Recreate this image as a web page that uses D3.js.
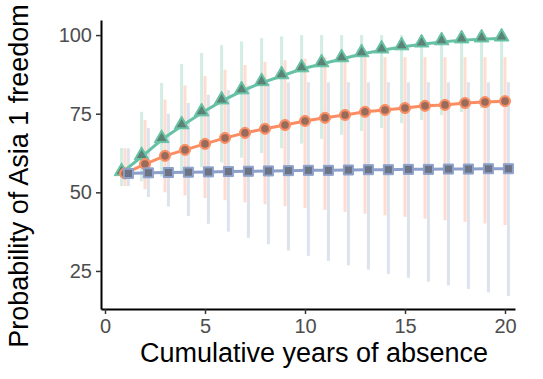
<!DOCTYPE html>
<html>
<head>
<meta charset="utf-8">
<script src="https://cdn.jsdelivr.net/npm/d3@7"></script>
<style>
  body { margin: 0; background: #fff; }
  svg { display: block; font-family: "Liberation Sans", Arial, sans-serif; }
</style>
</head>
<body>
<svg id="chart" width="543" height="379"></svg>
<script>
const years = d3.range(1, 21);

// point estimates per series
const greenMean  = [56.2, 61.3, 66.7, 71.1, 75.2, 79.0, 82.2, 84.8, 87.0, 89.2, 90.8, 92.4, 94.0, 95.2, 96.2, 97.1, 97.8, 98.4, 98.7, 99.0];
const orangeMean = [56.0, 59.0, 61.6, 63.5, 65.4, 67.3, 68.9, 70.2, 71.4, 72.7, 73.7, 74.6, 75.6, 76.2, 76.8, 77.5, 77.8, 78.4, 78.7, 79.0];
const blueMean   = [56.0, 56.2, 56.3, 56.4, 56.5, 56.6, 56.7, 56.8, 56.9, 57.0, 57.0, 57.1, 57.2, 57.2, 57.3, 57.3, 57.4, 57.4, 57.5, 57.5];

// interval bounds
const greenLo  = [52.0, 53.5, 55.0, 56.5, 58.0, 59.5, 61.0, 62.5, 64.0, 65.5, 67.0, 68.3, 69.5, 70.5, 72.0, 73.0, 74.5, 75.5, 76.8, 77.8];
const greenHi  = [64.1, 75.6, 84.8, 90.8, 94.3, 96.8, 98.0, 99.0, 99.6, 100, 100, 100, 100, 100, 100, 100, 100, 100, 100, 100];
const orangeLo = [52.0, 51.0, 50.0, 49.0, 48.2, 47.5, 46.8, 46.2, 45.6, 45.0, 44.4, 43.8, 43.2, 42.7, 42.2, 41.6, 41.1, 40.6, 40.1, 39.6];
const orangeHi = [64.0, 73.0, 79.5, 84.0, 87.0, 89.0, 90.5, 91.5, 92.0, 92.5, 93.0, 93.0, 93.0, 93.0, 93.0, 93.0, 93.0, 93.0, 93.0, 93.0];
const blueLo   = [52.0, 48.5, 45.5, 42.5, 40.0, 37.5, 35.5, 33.5, 31.5, 29.8, 28.2, 26.8, 25.4, 24.0, 22.8, 21.6, 20.4, 19.3, 18.2, 17.0];
const blueHi   = [64.0, 70.5, 75.0, 78.4, 81.0, 82.5, 84.0, 84.8, 85.0, 85.0, 85.0, 85.0, 85.0, 85.0, 85.0, 85.0, 85.0, 85.0, 85.0, 85.0];

const xTicks = [0, 5, 10, 15, 20];
const yTicks = [25, 50, 75, 100];

const series = [
  { mean: greenMean,  lo: greenLo,  hi: greenHi,  color: '#66c2a5', shape: 'triangle', dodge: -0.17 },
  { mean: orangeMean, lo: orangeLo, hi: orangeHi, color: '#fc8d62', shape: 'circle',   dodge: 0 },
  { mean: blueMean,   lo: blueLo,   hi: blueHi,   color: '#8da0cb', shape: 'square',   dodge: 0.17 }
];

const svg = d3.select('#chart');
const margin = { top: 20, right: 28, bottom: 70, left: 101 };
const width = 543, height = 379;

const x = d3.scaleLinear().domain([-0.2, 20.5]).range([margin.left, width - margin.right]);
const y = d3.scaleLinear().domain([12.9, 104.8]).range([height - margin.bottom, margin.top]);

// error bars first, then lines, then points
series.forEach(s => {
  svg.append('g')
    .selectAll('line')
    .data(years)
    .enter().append('line')
    .attr('x1', d => x(d + s.dodge))
    .attr('x2', d => x(d + s.dodge))
    .attr('y1', (d, i) => y(s.lo[i]))
    .attr('y2', (d, i) => y(s.hi[i]))
    .attr('stroke', s.color)
    .attr('stroke-opacity', 0.3)
    .attr('stroke-width', 3);
});

series.forEach(s => {
  const line = d3.line()
    .x(d => x(d + s.dodge))
    .y((d, i) => y(s.mean[i]));
  svg.append('path')
    .datum(years)
    .attr('fill', 'none')
    .attr('stroke', s.color)
    .attr('stroke-width', 3)
    .attr('d', line);
});

const symbols = {
  triangle: d3.symbol().type(d3.symbolTriangle).size(95),
  circle: d3.symbol().type(d3.symbolCircle).size(95),
  square: d3.symbol().type(d3.symbolSquare).size(100)
};
const inner = {
  triangle: d3.symbol().type(d3.symbolTriangle).size(40),
  circle: d3.symbol().type(d3.symbolCircle).size(45),
  square: d3.symbol().type(d3.symbolSquare).size(50)
};

series.forEach(s => {
  const pts = svg.append('g').selectAll('g')
    .data(years)
    .enter().append('g')
    .attr('transform', (d, i) => {
      const dy = s.shape === 'triangle' ? -1.5 : 0;
      return `translate(${x(d + s.dodge)},${y(s.mean[i]) + dy})`;
    });
  pts.append('path')
    .attr('d', symbols[s.shape]())
    .attr('fill', s.color)
    .attr('stroke', s.color)
    .attr('stroke-width', 1);
  pts.append('path')
    .attr('d', inner[s.shape]())
    .attr('fill', '#555')
    .attr('opacity', 0.6);
});

// axes
const xAxis = svg.append('g')
  .attr('transform', `translate(0,${height - margin.bottom})`)
  .call(d3.axisBottom(x).tickValues(xTicks).tickSize(5).tickPadding(5).tickSizeOuter(0));
const yAxis = svg.append('g')
  .attr('transform', `translate(${margin.left},0)`)
  .call(d3.axisLeft(y).tickValues(yTicks).tickSize(5).tickPadding(4).tickSizeOuter(0));

[xAxis, yAxis].forEach(a => {
  a.select('.domain').attr('stroke', '#000').attr('stroke-width', 2);
  a.selectAll('.tick line').attr('stroke', '#333').attr('stroke-width', 1.5);
  a.selectAll('.tick text')
    .attr('fill', '#4d4d4d')
    .style('font-size', '20px')
    .style('font-family', '"Liberation Sans", Arial, sans-serif');
});

svg.append('text')
  .attr('x', 314)
  .attr('y', 362)
  .attr('text-anchor', 'middle')
  .style('font-size', '27px')
  .attr('fill', '#000')
  .text('Cumulative years of absence');

svg.append('text')
  .attr('transform', 'translate(28,176) rotate(-90)')
  .attr('text-anchor', 'middle')
  .style('font-size', '27px')
  .attr('fill', '#000')
  .text('Probability of Asia 1 freedom');
</script>
</body>
</html>
